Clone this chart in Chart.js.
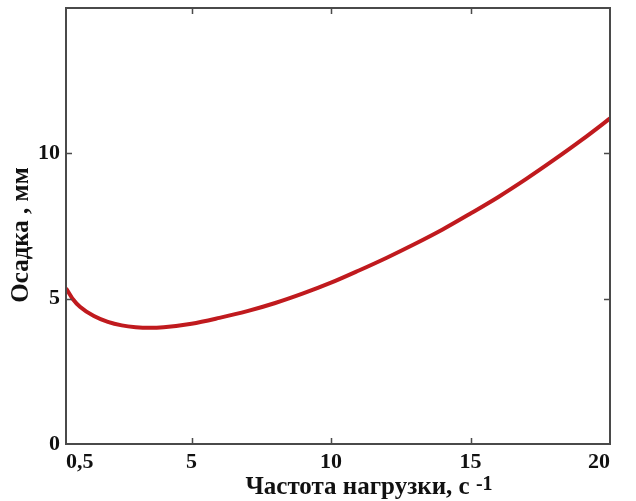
<!DOCTYPE html>
<html>
<head>
<meta charset="utf-8">
<script src="https://cdn.jsdelivr.net/npm/chart.js@4.4.1/dist/chart.umd.min.js"></script>
<style>
  html, body { margin: 0; padding: 0; background: #fff; }
  #wrap { width: 636px; height: 501px; }
</style>
</head>
<body>
<div id="wrap"><canvas id="chart" width="636" height="501"></canvas></div>
<script>
// load frequency, 1/s
const freq = [0.5, 0.75, 1, 1.5, 2, 2.5, 3, 3.5, 4, 5, 6, 7, 8, 9, 10, 11, 12, 13, 14, 15, 16, 17, 18, 19, 20];
// settlement, mm
const settlement = [5.36, 4.98, 4.72, 4.4, 4.2, 4.08, 4.02, 4.0, 4.02, 4.14, 4.34, 4.57, 4.85, 5.18, 5.55, 5.97, 6.41, 6.88, 7.38, 7.93, 8.5, 9.12, 9.78, 10.47, 11.2];

const xTickValues = [0.5, 5, 10, 15, 20];
const xTickLabels = ['0,5', '5', '10', '15', '20'];
const yTickValues = [0, 5, 10];

const xTitle = 'Частота нагрузки, с';
const xTitleSup = '-1';
const yTitle = 'Осадка , мм';

const axisColor = '#4a4a4a';
const textColor = '#111';
const serif = "'Liberation Serif', 'DejaVu Serif', serif";

// frame, inward tick marks on all four sides, axis titles
const framePlugin = {
  id: 'frame',
  afterDraw(chart) {
    const ctx = chart.ctx;
    const a = chart.chartArea;
    const xs = chart.scales.x, ys = chart.scales.y;
    ctx.save();
    ctx.strokeStyle = axisColor;
    ctx.lineWidth = 2;
    ctx.strokeRect(a.left, a.top, a.right - a.left, a.bottom - a.top);
    ctx.lineWidth = 1.5;
    ctx.beginPath();
    xTickValues.slice(1, -1).forEach(v => {
      const px = Math.round(xs.getPixelForValue(v)) + 0.5;
      ctx.moveTo(px, a.bottom); ctx.lineTo(px, a.bottom - 6);
      ctx.moveTo(px, a.top); ctx.lineTo(px, a.top + 6);
    });
    yTickValues.slice(1).forEach(v => {
      const py = Math.round(ys.getPixelForValue(v)) + 0.5;
      ctx.moveTo(a.left, py); ctx.lineTo(a.left + 6, py);
      ctx.moveTo(a.right, py); ctx.lineTo(a.right - 6, py);
    });
    ctx.stroke();

    // x title with raised "-1"
    ctx.fillStyle = textColor;
    ctx.textBaseline = 'alphabetic';
    ctx.font = 'bold 25px ' + serif;
    const w1 = ctx.measureText(xTitle + ' ').width;
    ctx.font = 'bold 20px ' + serif;
    const w2 = ctx.measureText(xTitleSup).width;
    const x0 = 369 - (w1 + w2) / 2;
    ctx.textAlign = 'left';
    ctx.font = 'bold 25px ' + serif;
    ctx.fillText(xTitle, x0, 494);
    ctx.font = 'bold 20px ' + serif;
    ctx.fillText(xTitleSup, x0 + w1, 490);

    // y title, rotated
    ctx.translate(22, 235);
    ctx.rotate(-Math.PI / 2);
    ctx.textAlign = 'center';
    ctx.textBaseline = 'middle';
    ctx.font = 'bold 25px ' + serif;
    ctx.fillText(yTitle, 0, 0);
    ctx.restore();
  }
};

new Chart(document.getElementById('chart'), {
  type: 'line',
  data: {
    datasets: [{
      data: freq.map((f, i) => ({ x: f, y: settlement[i] })),
      borderColor: '#c01a1e',
      borderWidth: 4,
      pointRadius: 0,
      cubicInterpolationMode: 'monotone',
      fill: false
    }]
  },
  options: {
    responsive: false,
    animation: false,
    layout: { padding: { top: 8, right: 26, left: 0, bottom: 0 } },
    plugins: { legend: { display: false }, tooltip: { enabled: false } },
    scales: {
      x: {
        type: 'linear',
        min: 0.5,
        max: 20,
        afterBuildTicks: s => { s.ticks = xTickValues.map(v => ({ value: v })); },
        afterFit: s => { s.height = 57; s.paddingLeft = 0; s.paddingRight = 0; },
        grid: { display: false, drawTicks: false },
        border: { display: false },
        ticks: {
          align: 'inner',
          padding: 5,
          color: textColor,
          font: { family: serif, size: 22, weight: 'bold' },
          callback: (v) => xTickLabels[xTickValues.indexOf(v)]
        }
      },
      y: {
        min: 0,
        max: 15,
        afterBuildTicks: s => { s.ticks = yTickValues.map(v => ({ value: v })); },
        afterFit: s => { s.width = 66; s.paddingTop = 0; s.paddingBottom = 0; },
        grid: { display: false, drawTicks: false },
        border: { display: false },
        ticks: {
          padding: 6,
          color: textColor,
          font: { family: serif, size: 22, weight: 'bold' }
        }
      }
    }
  },
  plugins: [framePlugin]
});
</script>
</body>
</html>
